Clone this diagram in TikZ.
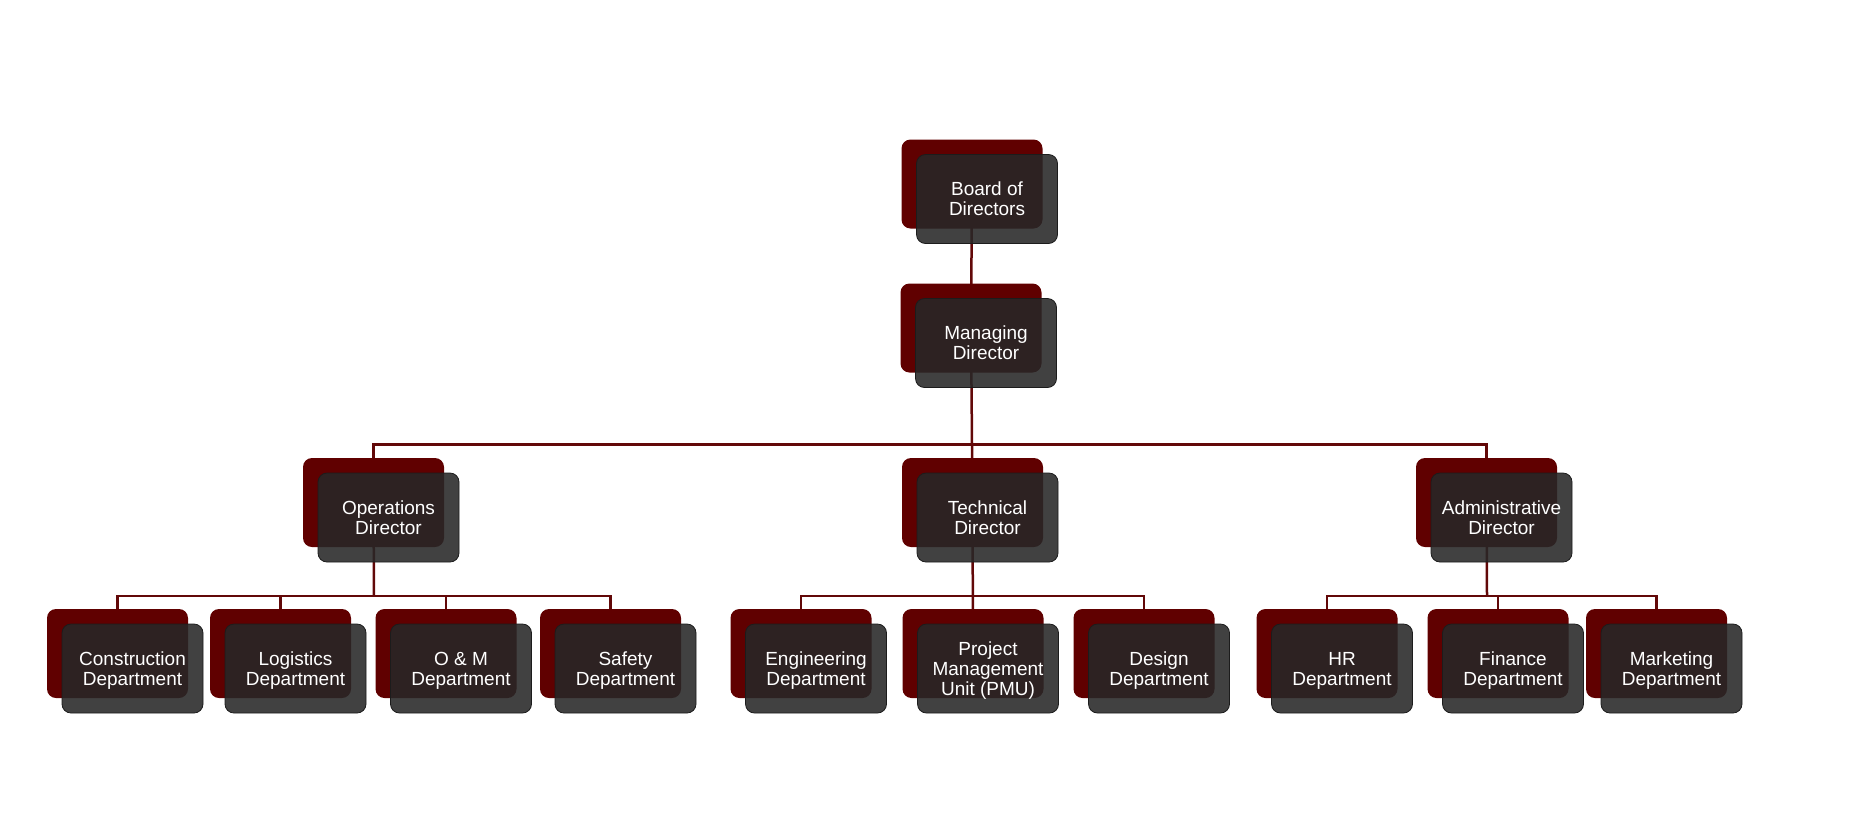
\documentclass[tikz,border=0pt]{standalone}
\usepackage{fontspec}
\setmainfont{Liberation Sans}
\definecolor{backred}{RGB}{96,0,0}
\definecolor{frontgray}{RGB}{39,39,39}
\definecolor{edgegray}{RGB}{28,28,28}
\definecolor{linkred}{RGB}{98,8,8}
\pgfdeclarelayer{background}
\pgfsetlayers{background,main}
\tikzset{
  backbox/.style={rounded corners=9pt, fill=backred, minimum width=141pt, minimum height=89pt, inner sep=0pt},
  frontbox/.style={rounded corners=9pt, fill=frontgray, fill opacity=0.88, text opacity=1, draw=edgegray, line width=0.8pt,
    minimum width=141pt, minimum height=89pt, inner sep=0pt, text=white, align=center,
    font=\fontsize{19}{20}\selectfont},
  link/.style={draw=linkred, line width=2.5pt}
}
\newcommand\orgbox[4]{%
  \node[backbox] (#1) at (#2,#3) {};
  \node[frontbox] (#1f) at ([shift={(15,15)}]#1.center) {\rule{0pt}{19pt}#4\strut};
}
\begin{document}
\begin{tikzpicture}[x=1pt,y=-1pt]
\useasboundingbox (0,0) rectangle (1855,815);
% level 0/1
\orgbox{bod}{972}{184}{Board of\\Directors}
\orgbox{md}{971}{328}{Managing\\Director}
% level 2
\orgbox{ops}{373.5}{502.5}{Operations\\Director}
\orgbox{tech}{972.5}{502.5}{Technical\\Director}
\orgbox{adm}{1486.5}{502.5}{Administrative\\Director}
% level 3
\orgbox{con}{117.5}{653.5}{Construction\\Department}
\orgbox{log}{280.5}{653.5}{Logistics\\Department}
\orgbox{om}{446}{653.5}{O \& M\\Department}
\orgbox{saf}{610.5}{653.5}{Safety\\Department}
\orgbox{eng}{801}{653.5}{Engineering\\Department}
\orgbox{pmu}{973}{653.5}{Project\\Management\\Unit (PMU)}
\orgbox{des}{1144}{653.5}{Design\\Department}
\orgbox{hr}{1327}{653.5}{HR\\Department}
\orgbox{fin}{1498}{653.5}{Finance\\Department}
\orgbox{mkt}{1656.5}{653.5}{Marketing\\Department}
% bus coordinates
\coordinate (busA) at (972,444.5);
\coordinate (busO) at (374,596);
\coordinate (busT) at (973,596);
\coordinate (busD) at (1487,596);
\begin{pgfonlayer}{background}
\draw[link] (bod.center) -- (md.center);
\draw[link] (md.center) -- (tech.center);
\draw[link] (ops.center) |- (busA) -| (adm.center);
\draw[link] (ops.center) -- (busO);
\draw[link] (con.center) |- (busO) -| (saf.center);
\draw[link] (log.center) -- (log.center |- busO);
\draw[link] (om.center) -- (om.center |- busO);
\draw[link] (tech.center) -- (pmu.center);
\draw[link] (eng.center) |- (busT) -| (des.center);
\draw[link] (adm.center) -- (busD);
\draw[link] (hr.center) |- (busD) -| (mkt.center);
\draw[link] (fin.center) -- (fin.center |- busD);
\end{pgfonlayer}
\end{tikzpicture}
\end{document}
